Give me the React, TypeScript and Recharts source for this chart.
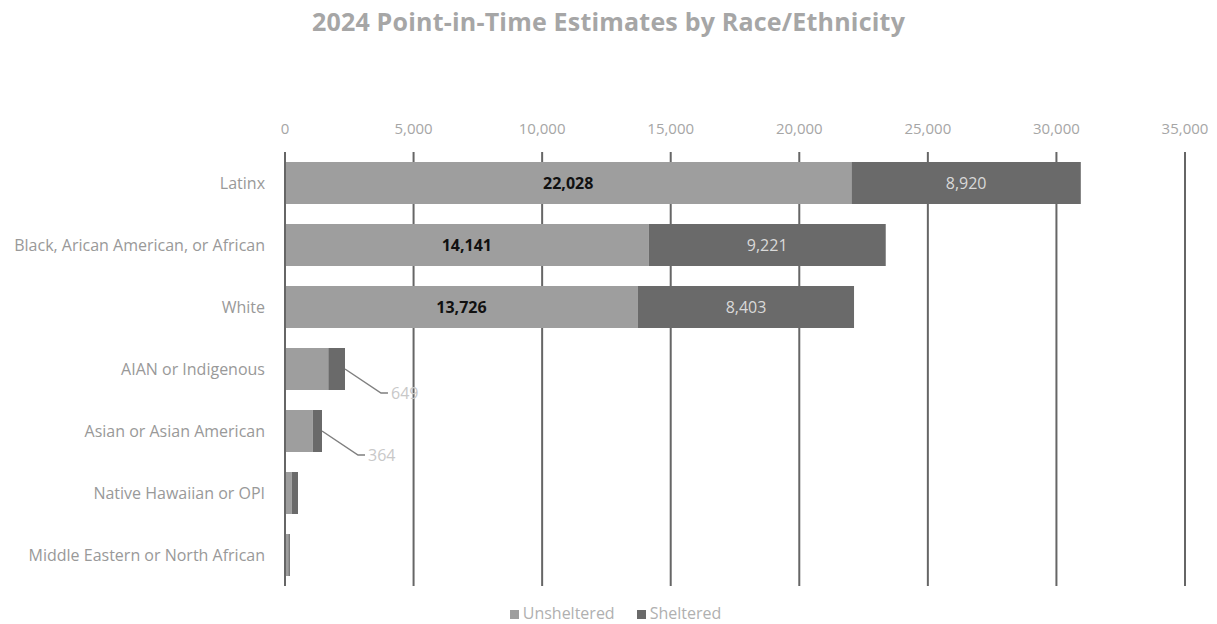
import React from "react";
import { Bar, BarChart, CartesianGrid, LabelList, Legend, XAxis, YAxis } from "recharts";

const categories = [
  "Latinx",
  "Black, Arican American, or African",
  "White",
  "AIAN or Indigenous",
  "Asian or Asian American",
  "Native Hawaiian or OPI",
  "Middle Eastern or North African",
];
const unsheltered = [22028, 14141, 13726, 1684, 1075, 260, 130];
const sheltered = [8920, 9221, 8403, 649, 364, 245, 60];
const xTicks = [0, 5000, 10000, 15000, 20000, 25000, 30000, 35000];
const seriesOrder = ["Unsheltered", "Sheltered"];

const data = categories.map((name, i) => ({
  name,
  Unsheltered: unsheltered[i],
  Sheltered: sheltered[i],
}));

const fmt = (v: number) => v.toLocaleString("en-US");

const InnerLabel = (props: any) => {
  const { x, y, width, height, value } = props;
  if (value < 5000) return null;
  return (
    <text x={x + width / 2} y={y + height / 2} dy={6} textAnchor="middle" fontSize={16} fontWeight={700} fill="#111">
      {fmt(value)}
    </text>
  );
};

const ShelteredLabel = (props: any) => {
  const { x, y, width, height, value, index } = props;
  if (value >= 5000) {
    return (
      <text x={x + width / 2} y={y + height / 2} dy={6} textAnchor="middle" fontSize={16} fill="#d9d9d9">
        {fmt(value)}
      </text>
    );
  }
  // leader-line callouts only for the two mid-size groups
  if (index !== 3 && index !== 4) return null;
  const sx = x + width;
  const sy = y + height / 2;
  const ex = sx + 36;
  const ey = sy + 24;
  return (
    <g>
      <polyline points={`${sx},${sy} ${ex},${ey} ${ex + 7},${ey}`} fill="none" stroke="#7f7f7f" strokeWidth={1.5} />
      <text x={ex + 10} y={ey} dy={6} fontSize={16} fill="#c8c8c8">
        {fmt(value)}
      </text>
    </g>
  );
};

export default function App() {
  return (
    <div
      style={{
        position: "absolute",
        left: 0,
        top: 0,
        width: 1217,
        height: 624,
        background: "#fff",
        fontFamily: "'Open Sans', sans-serif",
      }}
    >
      <div
        style={{
          position: "absolute",
          top: 4,
          width: 1217,
          textAlign: "center",
          fontSize: 25,
          fontWeight: 700,
          color: "#a6a6a6",
          letterSpacing: 0.2,
        }}
      >
        2024 Point-in-Time Estimates by Race/Ethnicity
      </div>
      <BarChart
        width={1217}
        height={624}
        data={data}
        layout="vertical"
        margin={{ top: 112, right: 32, left: 0, bottom: 0 }}
      >
        <CartesianGrid horizontal={false} stroke="#666" strokeWidth={2} />
        <XAxis
          type="number"
          orientation="top"
          domain={[0, 35000]}
          ticks={xTicks}
          tickFormatter={fmt}
          axisLine={false}
          tickLine={false}
          height={40}
          tickMargin={12}
          tick={{ fill: "#a6a6a6", fontSize: 15 }}
          interval={0}
        />
        <YAxis
          type="category"
          dataKey="name"
          width={285}
          tickLine={false}
          axisLine={{ stroke: "#666", strokeWidth: 2 }}
          tickMargin={14}
          tick={{ fill: "#999", fontSize: 16 }}
          interval={0}
        />
        <Legend
          verticalAlign="bottom"
          align="center"
          iconType="square"
          iconSize={9}
          itemSorter={(item: any) => seriesOrder.indexOf(item.value)}
          wrapperStyle={{ paddingTop: 16, paddingLeft: 28, fontSize: 16 }}
          formatter={(v) => (
            <span style={{ color: "#b0b0b0", marginRight: v === "Unsheltered" ? 12 : 0 }}>{v}</span>
          )}
        />
        <Bar dataKey="Unsheltered" stackId="a" fill="#9e9e9e" barSize={42} isAnimationActive={false}>
          <LabelList dataKey="Unsheltered" content={InnerLabel} />
        </Bar>
        <Bar dataKey="Sheltered" stackId="a" fill="#6a6a6a" barSize={42} isAnimationActive={false}>
          <LabelList dataKey="Sheltered" content={ShelteredLabel} />
        </Bar>
      </BarChart>
    </div>
  );
}
